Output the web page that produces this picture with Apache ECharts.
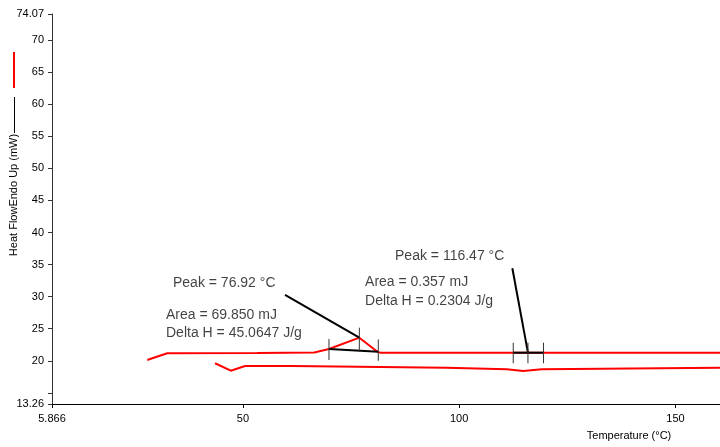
<!DOCTYPE html>
<html>
<head>
<meta charset="utf-8">
<script src="https://cdn.jsdelivr.net/npm/echarts@6/dist/echarts.min.js"></script>
<style>html,body{margin:0;padding:0;background:#fff}#c{width:720px;height:447px}</style>
</head>
<body>
<div id="c"></div>
<script>
// Heating curve (upper red)
const heatT = [27.9, 28.9, 32.0, 32.5, 53.3, 53.4, 66.5, 66.7, 69.9, 76.92, 81.1, 81.7, 160.3];
const heatV = [20.12, 20.35, 21.06, 21.17, 21.2, 21.3, 21.3, 21.4, 21.84, 23.6, 21.42, 21.26, 21.26];
// Cooling curve (lower red)
const coolT = [43.55, 47.2, 50.5, 61.3, 61.4, 97.0, 97.2, 111.0, 111.1, 114.8, 115.2, 119.1, 119.4, 160.3];
const coolV = [19.61, 18.45, 19.19, 19.19, 18.92, 18.92, 18.67, 18.67, 18.41, 18.41, 18.67, 18.67, 18.92, 18.92];

// Peak annotation values
const baseStartT = [69.9, 112.5];
const baseStartV = [21.84, 21.26];
const baseEndT = [81.3, 119.5];
const baseEndV = [21.42, 21.26];
const peakT = [76.92, 115.9];
const peakV = [23.6, 21.26];
const leaderT = [59.74, 112.29];
const leaderV = [30.26, 34.42];
const tickTop = [[23.4, 25.16, 23.33], [22.82, 22.82, 22.82]];
const tickBot = [[20.12, 21.42, 20.0], [19.61, 19.61, 19.61]];

// Annotation texts
const noteTexts = ['Peak = 76.92 °C', 'Area = 69.850 mJ', 'Delta H = 45.0647 J/g',
                   'Peak = 116.47 °C', 'Area = 0.357 mJ', 'Delta H = 0.2304 J/g'];
const noteT = [33.84, 32.22, 32.22, 85.17, 78.24, 78.24];
const noteV = [32.08, 27.14, 24.38, 36.38, 32.24, 29.37];

// Axis ticks
const xMin = 5.866, xMax = 160.3;
const yMin = 13.26, yMax = 74.07;
const xTickVals = [5.866, 50, 100, 150];
const xTickLabels = ['5.866', '50', '100', '150'];
const yTickVals = [13.26, 15, 20, 25, 30, 35, 40, 45, 50, 55, 60, 65, 70, 74.07];
const yLabelVals = [13.26, 20, 25, 30, 35, 40, 45, 50, 55, 60, 65, 70, 74.07];

const zip = (a, b) => a.map((v, i) => [v, b[i]]);
const FONT = 'Liberation Sans, Arial, sans-serif';

const series = [];
series.push({type: 'line', data: zip(heatT, heatV), symbol: 'none', lineStyle: {color: '#ff0000', width: 2}, z: 3, silent: true});
series.push({type: 'line', data: zip(coolT, coolV), symbol: 'none', lineStyle: {color: '#ff0000', width: 2}, z: 3, silent: true});

for (let i = 0; i < peakT.length; i++) {
  series.push({type: 'line', data: [[baseStartT[i], baseStartV[i]], [baseEndT[i], baseEndV[i]]], symbol: 'none', lineStyle: {color: '#000', width: 2}, z: 4, silent: true});
  series.push({type: 'line', data: [[leaderT[i], leaderV[i]], [peakT[i], peakV[i]]], symbol: 'none', lineStyle: {color: '#000', width: 2}, z: 4, silent: true});
  const xs = [baseStartT[i], peakT[i], baseEndT[i]];
  xs.forEach((t, k) => {
    series.push({type: 'line', data: [[t, tickTop[i][k]], [t, tickBot[i][k]]], symbol: 'none', lineStyle: {color: '#333', width: 1}, z: 5, silent: true});
  });
}

series.push({
  type: 'scatter', symbolSize: 0, silent: true, z: 6,
  data: noteT.map((t, i) => ({value: [t, noteV[i]], label: {formatter: noteTexts[i]}})),
  label: {show: true, position: 'right', distance: 0, color: '#111', fontSize: 14, fontFamily: FONT}
});

const chart = echarts.init(document.getElementById('c'), null, {renderer: 'canvas'});
chart.setOption({
  animation: false,
  backgroundColor: '#fff',
  grid: {left: 52, right: 0, top: 14, bottom: 43},
  xAxis: {
    type: 'value', min: xMin, max: xMax,
    axisLine: {show: true, lineStyle: {color: '#000', width: 1}},
    axisTick: {show: true, length: 4, inside: false, customValues: xTickVals, lineStyle: {color: '#000'}},
    axisLabel: {show: true, customValues: xTickVals, formatter: v => xTickLabels[xTickVals.indexOf(v)] ?? '', color: '#000', fontSize: 11, fontFamily: FONT, margin: 9, showMinLabel: true, showMaxLabel: true},
    splitLine: {show: false}
  },
  yAxis: {
    type: 'value', min: yMin, max: yMax,
    axisLine: {show: true, lineStyle: {color: '#333', width: 1}},
    axisTick: {show: true, length: 4, inside: false, customValues: yTickVals, lineStyle: {color: '#333'}},
    axisLabel: {show: true, customValues: yLabelVals, formatter: v => String(v), color: '#000', fontSize: 11, fontFamily: FONT, margin: 8},
    splitLine: {show: false}
  },
  series: series,
  graphic: [
    {type: 'line', shape: {x1: 14, y1: 52, x2: 14, y2: 88}, style: {stroke: '#ff0000', lineWidth: 2}},
    {type: 'line', shape: {x1: 14.5, y1: 97, x2: 14.5, y2: 133}, style: {stroke: '#000', lineWidth: 1}},
    {type: 'text', x: 14, y: 195, rotation: Math.PI / 2, style: {text: 'Heat FlowEndo Up (mW)', fill: '#000', fontSize: 11, fontFamily: FONT, align: 'center', verticalAlign: 'middle'}},
    {type: 'text', x: 629, y: 436, style: {text: 'Temperature (°C)', fill: '#000', fontSize: 11, fontFamily: FONT, align: 'center', verticalAlign: 'middle'}}
  ]
});
</script>
</body>
</html>
